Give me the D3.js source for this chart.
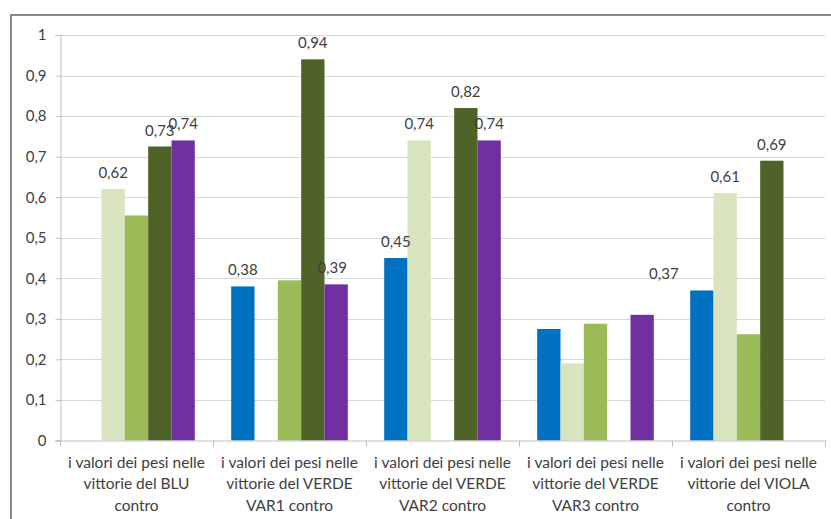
<!DOCTYPE html>
<html>
<head>
<meta charset="utf-8">
<script src="https://cdn.jsdelivr.net/npm/d3@7"></script>
<style>
  html, body { margin: 0; padding: 0; background: #fff; }
  svg { display: block; }
  text { font-family: Lato, "Open Sans", sans-serif; fill: #404040; }
</style>
</head>
<body>
<svg id="chart" width="831" height="519"></svg>
<script>
// ---- data ----
const categories = [
  ["i valori dei pesi nelle", "vittorie del BLU", "contro"],
  ["i valori dei pesi nelle", "vittorie del VERDE", "VAR1 contro"],
  ["i valori dei pesi nelle", "vittorie del VERDE", "VAR2 contro"],
  ["i valori dei pesi nelle", "vittorie del VERDE", "VAR3 contro"],
  ["i valori dei pesi nelle", "vittorie del VIOLA", "contro"]
];
const seriesNames = ["BLU", "VERDE VAR1", "VERDE VAR2", "VERDE VAR3", "VIOLA"];
const seriesColors = ["#0070C0", "#D7E4BD", "#9BBB59", "#4F6228", "#7030A0"];
// values per series, one entry per category (null = no bar)
const valBlu   = [null, 0.38, 0.45, 0.275, 0.37];
const valVar1  = [0.62, null, 0.74, 0.19, 0.61];
const valVar2  = [0.555, 0.395, null, 0.288, 0.262];
const valVar3  = [0.725, 0.94, 0.82, null, 0.69];
const valViola = [0.74, 0.385, 0.74, 0.31, null];
// data labels shown in the picture (null = not shown)
const lblBlu   = [null, "0,38", "0,45", null, "0,37"];
const lblVar1  = ["0,62", null, "0,74", null, "0,61"];
const lblVar2  = [null, null, null, null, null];
const lblVar3  = ["0,73", "0,94", "0,82", null, "0,69"];
const lblViola = ["0,74", "0,39", "0,74", null, null];
const yTicks = [0, 0.1, 0.2, 0.3, 0.4, 0.5, 0.6, 0.7, 0.8, 0.9, 1];

const seriesValues = [valBlu, valVar1, valVar2, valVar3, valViola];
const seriesLabels = [lblBlu, lblVar1, lblVar2, lblVar3, lblViola];

// ---- layout ----
const svg = d3.select("#chart");
const plotLeft = 60, plotRight = 825, plotTop = 35, plotBottom = 440.5;

const x0 = d3.scaleBand().domain(d3.range(categories.length)).range([plotLeft, plotRight]).paddingInner(0).paddingOuter(0);
const x1 = d3.scaleBand().domain(d3.range(seriesNames.length)).range([0, x0.bandwidth()]).paddingInner(0).paddingOuter(0.78);
const y = d3.scaleLinear().domain([0, 1]).range([plotBottom, plotTop]);

const locale = d3.formatLocale({decimal: ",", thousands: ".", grouping: [3], currency: ["", "€"]});
const fmt = v => v === 0 ? "0" : v === 1 ? "1" : locale.format(".1f")(v);

// outer frame
svg.append("rect").attr("x", 11).attr("y", 15).attr("width", 840).attr("height", 520)
  .attr("fill", "none").attr("stroke", "#8a8a8a").attr("stroke-width", 2);

// gridlines
svg.append("g").selectAll("line").data(yTicks.filter(d => d > 0)).join("line")
  .attr("x1", plotLeft).attr("x2", plotRight)
  .attr("y1", d => Math.round(y(d)) + 0.5).attr("y2", d => Math.round(y(d)) + 0.5)
  .attr("stroke", "#d9d9d9").attr("stroke-width", 1);

// y axis
const yAxis = d3.axisLeft(y).tickValues(yTicks).tickFormat(fmt).tickSize(5).tickPadding(9);
const gy = svg.append("g").attr("transform", `translate(${plotLeft + 0.5},0)`).call(yAxis);
gy.select(".domain").attr("stroke", "#bfbfbf");
gy.selectAll(".tick line").attr("stroke", "#bfbfbf");
gy.selectAll(".tick text").attr("font-size", 15).attr("fill", "#404040")
  .attr("font-family", "Lato, 'Open Sans', sans-serif");

// bars
const groups = svg.append("g").selectAll("g").data(categories).join("g")
  .attr("transform", (d, i) => `translate(${x0(i)},0)`);

groups.each(function(_, ci) {
  const g = d3.select(this);
  const rows = seriesValues.map((arr, si) => ({si, v: arr[ci], lbl: seriesLabels[si][ci]}))
    .filter(r => r.v !== null);
  g.selectAll("rect").data(rows).join("rect")
    .attr("x", r => x1(r.si))
    .attr("width", x1.bandwidth())
    .attr("y", r => y(r.v))
    .attr("height", r => y(0) - y(r.v))
    .attr("fill", r => seriesColors[r.si]);
  // label nudges (pixel offsets for labels displaced in the original)
  const nudge = (r) => (ci === 4 && r.si === 0) ? -38 : (ci === 1 && r.si === 4) ? -4 : 0;
  g.selectAll("text.lbl").data(rows.filter(r => r.lbl)).join("text")
    .attr("class", "lbl")
    .attr("x", r => x1(r.si) + x1.bandwidth() / 2 + nudge(r))
    .attr("y", r => y(r.v) - 11)
    .attr("text-anchor", "middle")
    .attr("font-size", 15)
    .text(r => r.lbl);
});

// x axis
const gx = svg.append("g");
gx.append("line").attr("x1", plotLeft - 5).attr("x2", plotRight + 1)
  .attr("y1", plotBottom + 0.5).attr("y2", plotBottom + 0.5).attr("stroke", "#bfbfbf");
gx.selectAll("line.tk").data(d3.range(categories.length + 1)).join("line").attr("class", "tk")
  .attr("x1", i => Math.round(plotLeft + i * x0.step()) + 0.5)
  .attr("x2", i => Math.round(plotLeft + i * x0.step()) + 0.5)
  .attr("y1", plotBottom).attr("y2", plotBottom + 6).attr("stroke", "#bfbfbf");

const cl = gx.selectAll("text.cat").data(categories).join("text").attr("class", "cat")
  .attr("text-anchor", "middle").attr("font-size", 15.5)
  .attr("transform", (d, i) => `translate(${x0(i) + x0.bandwidth() / 2},0)`);
cl.selectAll("tspan").data(d => d).join("tspan")
  .attr("x", 0).attr("y", (d, k) => 467.5 + k * 21.5).text(d => d);
</script>
</body>
</html>
